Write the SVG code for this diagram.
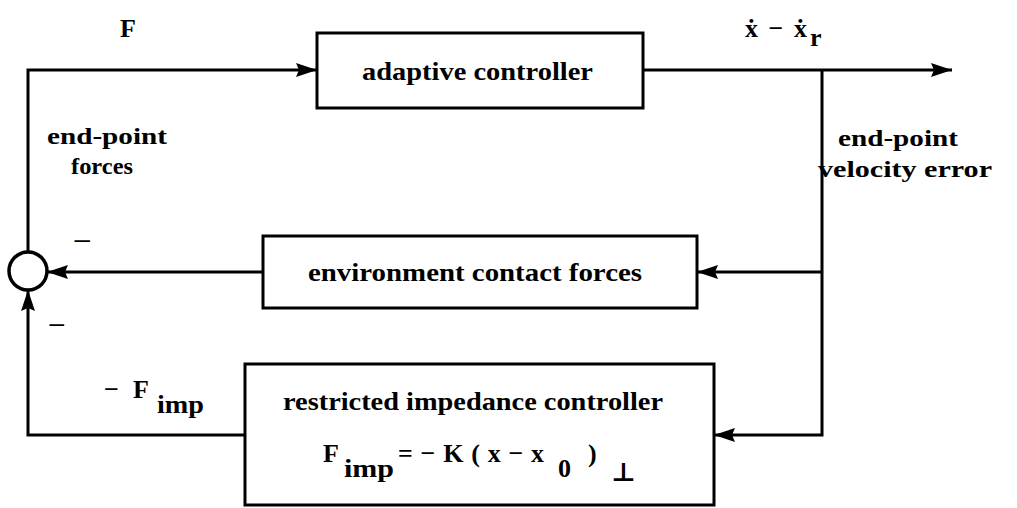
<svg xmlns="http://www.w3.org/2000/svg" width="1017" height="508" viewBox="0 0 1017 508">
<style>
  .box { fill: #fff; stroke: #000; stroke-width: 3; }
  .wire { fill: none; stroke: #000; stroke-width: 3; }
  text { font-family: "Liberation Serif", "DejaVu Serif", serif; font-weight: bold; font-size: 26px; fill: #000; }
  .lbl { font-size: 24px; }
  .sym { font-family: "DejaVu Serif", "Liberation Serif", serif; }
</style>
<defs>
  <marker id="arr" viewBox="0 0 21 14" refX="21" refY="7" markerWidth="21" markerHeight="14" markerUnits="userSpaceOnUse" orient="auto">
    <path d="M0,0 L21,7 L0,14 L3,7 Z" fill="#000"/>
  </marker>
</defs>
<rect width="1017" height="508" fill="#fff"/>

<g id="connectors">
  <path class="wire" d="M28,252 L28,70 L317,70" marker-end="url(#arr)"/>
  <path class="wire" d="M643,70 L952,70" marker-end="url(#arr)"/>
  <path class="wire" d="M822,70 L822,435 L714,435" marker-end="url(#arr)"/>
  <path class="wire" d="M822,272 L697,272" marker-end="url(#arr)"/>
  <path class="wire" d="M263,272 L47,272" marker-end="url(#arr)"/>
  <path class="wire" d="M245,435 L28,435 L28,290" marker-end="url(#arr)"/>
</g>

<g id="sum">
  <circle cx="28" cy="271" r="19" fill="#fff" stroke="#000" stroke-width="3.5"/>
</g>

<g id="adaptive">
  <rect class="box" x="317" y="33" width="326" height="75"/>
  <text x="362" y="80" textLength="231" lengthAdjust="spacingAndGlyphs">adaptive controller</text>
</g>

<g id="environment">
  <rect class="box" x="263" y="236" width="434" height="72"/>
  <text x="308" y="281" textLength="334" lengthAdjust="spacingAndGlyphs">environment contact forces</text>
</g>

<g id="impedance">
  <rect class="box" x="245" y="364" width="469" height="141"/>
  <text x="283" y="410" textLength="380" lengthAdjust="spacingAndGlyphs">restricted impedance controller</text>
  <text x="323" y="462">F</text>
  <text x="344" y="477" textLength="50" lengthAdjust="spacingAndGlyphs">imp</text>
  <text x="398" y="462" textLength="146" lengthAdjust="spacing">= − K ( x − x</text>
  <text x="558" y="477">0</text>
  <text x="588" y="462">)</text>
  <text class="sym" x="611" y="481" font-size="19">⊥</text>
</g>

<g id="labels">
  <text x="120" y="37" font-size="23">F</text>
  <text x="745" y="37" textLength="62" lengthAdjust="spacing">ẋ − ẋ</text>
  <text x="810" y="46">r</text>
  <text class="lbl" x="47" y="144" textLength="120" lengthAdjust="spacingAndGlyphs">end-point</text>
  <text class="lbl" x="71" y="174" textLength="62" lengthAdjust="spacingAndGlyphs">forces</text>
  <text class="lbl" x="838" y="146" textLength="120" lengthAdjust="spacingAndGlyphs">end-point</text>
  <text class="lbl" x="818" y="177" textLength="174" lengthAdjust="spacingAndGlyphs">velocity error</text>
  <text x="73" y="250" textLength="19" lengthAdjust="spacingAndGlyphs">−</text>
  <text x="48" y="334" textLength="18" lengthAdjust="spacingAndGlyphs">−</text>
  <text x="104" y="398" textLength="15" lengthAdjust="spacingAndGlyphs">−</text>
  <text x="133" y="398">F</text>
  <text x="157" y="413" textLength="47" lengthAdjust="spacingAndGlyphs">imp</text>
</g>
</svg>
